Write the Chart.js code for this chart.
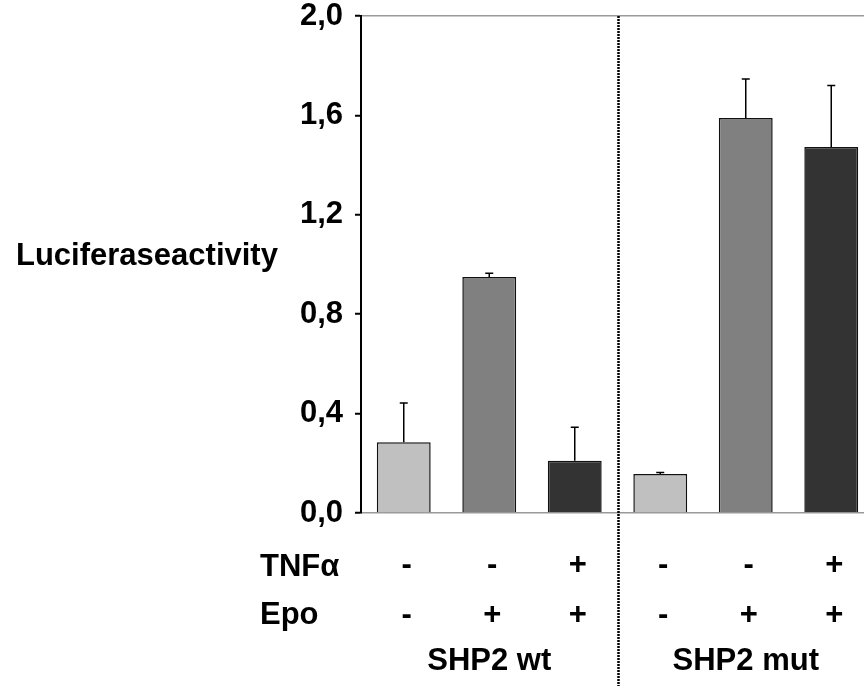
<!DOCTYPE html>
<html>
<head>
<meta charset="utf-8">
<script src="https://cdn.jsdelivr.net/npm/chart.js@4/dist/chart.umd.min.js"></script>
<style>
  html, body { margin: 0; padding: 0; background: #fff; overflow: hidden; }
  #wrap { position: relative; width: 874px; height: 686px; }
</style>
</head>
<body>
<div id="wrap"><canvas id="myChart"></canvas></div>
<script>
const categories = ['wt 1', 'wt 2', 'wt 3', 'mut 1', 'mut 2', 'mut 3'];
const tnfRow = ['-', '-', '+', '-', '-', '+'];
const epoRow = ['-', '+', '+', '-', '+', '+'];
const groups = ['SHP2 wt', 'SHP2 mut'];
const means = [0.285, 0.95, 0.21, 0.157, 1.59, 1.473];
const errors = [0.158, 0.015, 0.135, 0.006, 0.156, 0.247];
const yTicks = [0, 0.4, 0.8, 1.2, 1.6, 2.0];

const barColors = ['#c0c0c0', '#808080', '#333333', '#c0c0c0', '#808080', '#333333'];
const FONT = 'bold 31px "Liberation Sans", Arial, sans-serif';

const errorBars = {
  id: 'errorBars',
  afterDatasetsDraw: function (chart) {
    const ctx = chart.ctx;
    const yScale = chart.scales.y;
    const meta = chart.getDatasetMeta(0);
    ctx.save();
    ctx.strokeStyle = '#000';
    ctx.lineWidth = 1.5;
    meta.data.forEach(function (bar, i) {
      const top = yScale.getPixelForValue(means[i] + errors[i]);
      ctx.beginPath();
      ctx.moveTo(bar.x, bar.y);
      ctx.lineTo(bar.x, top);
      ctx.moveTo(bar.x - 4, top);
      ctx.lineTo(bar.x + 4, top);
      ctx.stroke();
    });
    ctx.restore();
  }
};

const extraText = {
  id: 'extraText',
  afterDraw: function (chart) {
    const ctx = chart.ctx;
    const xScale = chart.scales.x;
    const area = chart.chartArea;
    ctx.save();
    ctx.fillStyle = '#000';
    ctx.font = FONT;
    ctx.textBaseline = 'middle';

    // axis title
    ctx.textAlign = 'left';
    ctx.fillText('Luciferaseactivity', 16, 256);

    // row labels
    ctx.fillText('TNFα', 260, 567);
    ctx.fillText('Epo', 260, 615);

    ctx.textAlign = 'center';
    categories.forEach(function (c, i) {
      const x = xScale.getPixelForValue(i) + 3;
      ctx.fillText(tnfRow[i], x, 565);
      ctx.fillText(epoRow[i], x, 615);
    });

    // group labels
    const g1 = (xScale.getPixelForValue(0) + xScale.getPixelForValue(2)) / 2;
    const g2 = (xScale.getPixelForValue(3) + xScale.getPixelForValue(5)) / 2;
    ctx.fillText(groups[0], g1, 661);
    ctx.fillText(groups[1], g2, 661);

    // dotted separator
    const sx = (xScale.getPixelForValue(2) + xScale.getPixelForValue(3)) / 2 + 1;
    ctx.strokeStyle = '#000';
    ctx.lineWidth = 2.5;
    ctx.setLineDash([2, 1]);
    ctx.beginPath();
    ctx.moveTo(sx, area.top);
    ctx.lineTo(sx, chart.height);
    ctx.stroke();
    ctx.restore();
  }
};

const app = {
  initChart: function () {
    const thisApp = this;

    thisApp.ctx = document.getElementById('myChart').getContext('2d');
    thisApp.chart = new Chart(thisApp.ctx, {
      type: 'bar',
      data: {
        labels: categories,
        datasets: [{
          data: means,
          backgroundColor: barColors,
          borderColor: '#111',
          borderWidth: 1.5,
          categoryPercentage: 1,
          barPercentage: 0.63,
        }]
      },
      options: {
        responsive: true,
        maintainAspectRatio: false,
        animation: false,
        layout: {padding: {top: 16, right: 0, left: 0, bottom: 0}},
        plugins: {legend: {display: false}, tooltip: {enabled: false}},
        scales: {
          x: {
            type: 'category',
            ticks: {display: false},
            grid: {display: false},
            border: {color: '#999', width: 1.5},
            afterFit: function (scale) {
              scale.height = 173;
              scale.paddingLeft = 0;
              scale.paddingRight = 0;
            },
          },
          y: {
            min: 0,
            max: 2,
            afterBuildTicks: function (scale) {
              scale.ticks = yTicks.map(function (v) { return {value: v}; });
            },
            ticks: {
              color: '#000',
              font: {family: '"Liberation Sans", Arial, sans-serif', size: 31, weight: 'bold'},
              padding: 12,
              callback: function (v) { return v.toFixed(1).replace('.', ','); },
            },
            grid: {
              color: function (c) { return c.tick && c.tick.value === 2 ? '#999' : 'rgba(0,0,0,0)'; },
              lineWidth: 1.5,
              tickColor: '#000',
              tickWidth: 2,
              tickLength: 6,
            },
            border: {color: '#000', width: 2},
            afterFit: function (scale) {
              scale.width = 361;
              scale.paddingTop = 0;
              scale.paddingBottom = 0;
            },
          }
        }
      },
      plugins: [errorBars, extraText],
    });
  },
  init: function () {
    const thisApp = this;
    thisApp.initChart();
  },
};

app.init();
</script>
</body>
</html>
